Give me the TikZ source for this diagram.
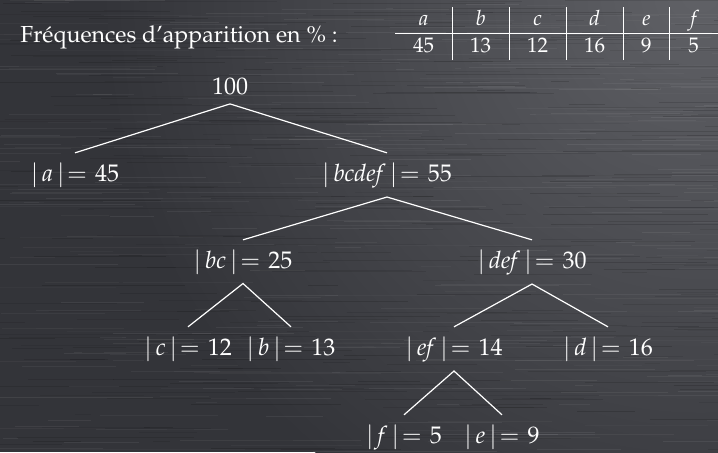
\documentclass[tikz,border=0pt]{standalone}
\usepackage[T1]{fontenc}
\usepackage{mathpazo}
\usepackage{amsmath,amssymb}
\usepackage{xcolor}
\usepackage{tikz}
\usetikzlibrary{calc}
\definecolor{bgdark}{RGB}{51,52,57}
\definecolor{bglight}{RGB}{96,97,102}
\newcommand{\card}[2]{${|\,\mathit{#1}\,|}\mkern2mu{=}\mkern6mu#2$}

\begin{document}
\begin{tikzpicture}[x=0.5pt,y=0.5pt,font=\fontsize{12}{14.4}\selectfont,
  lbl/.style={text=white,inner sep=4.5pt,anchor=base},
  edge/.style={white,line width=0.6pt}]
  % fond brosse
  \fill[bgdark] (0,0) rectangle (718,452);
  \begin{scope}
    \clip (0,0) rectangle (718,452);
    \shade[inner color=bglight,outer color=bgdark] (700,460) circle (600);
    \pgfmathsetseed{17}
    \foreach \i in {1,...,360}{
      \pgfmathsetmacro{\yy}{rnd*452}
      \pgfmathsetmacro{\xx}{rnd*760-40}
      \pgfmathsetmacro{\ll}{15+rnd*170}
      \pgfmathsetmacro{\op}{0.02+rnd*0.05}
      \draw[white,opacity=\op,line width=0.5pt] (\xx,\yy) -- ++(\ll,0);
    }
    \foreach \i in {1,...,360}{
      \pgfmathsetmacro{\yy}{rnd*452}
      \pgfmathsetmacro{\xx}{rnd*760-40}
      \pgfmathsetmacro{\ll}{15+rnd*170}
      \pgfmathsetmacro{\op}{0.05+rnd*0.10}
      \draw[black,opacity=\op,line width=0.5pt] (\xx,\yy) -- ++(\ll,0);
    }
  \end{scope}
  \useasboundingbox (0,0) rectangle (718,452);
  % frequences
  \node[lbl,anchor=base west,font=\fontsize{11.6}{14}\selectfont] (titre) at (11,410)
    {Fr\'equences d'apparition en \% :};
  \node[lbl,anchor=north east,inner sep=0pt] (freq) at (718,445)
    {\fontsize{10.5}{13}\selectfont\setlength{\tabcolsep}{9pt}%
     \begin{tabular}{c|c|c|c|c|c}
       $a$ & $b$ & $c$ & $d$ & $e$ & $f$\\ \hline
       45 & 13 & 12 & 16 & 9 & 5
     \end{tabular}};
  % arbre
  \node[lbl] (tot) at (230,358) {100};
  \node[lbl] (a) at (75,271) {\card{a}{45}};
  \node[lbl] (bcdef) at (387,271) {\card{bcdef}{55}};
  \node[lbl] (bc) at (243,184) {\card{bc}{25}};
  \node[lbl] (def) at (532,184) {\card{def}{30}};
  \node[lbl] (c) at (188,97) {\card{c}{12}};
  \node[lbl] (b) at (291,97) {\card{b}{13}};
  \node[lbl] (ef) at (454,97) {\card{ef}{14}};
  \node[lbl] (d) at (608,97) {\card{d}{16}};
  \node[lbl] (f) at (404,9) {\card{f}{5}};
  \node[lbl] (e) at (502,9) {\card{e}{9}};
  \draw[edge] (a.north) -- (tot.south) -- (bcdef.north);
  \draw[edge] (bc.north) -- (bcdef.south) -- (def.north);
  \draw[edge] (c.north) -- (bc.south) -- (b.north);
  \draw[edge] (ef.north) -- (def.south) -- (d.north);
  \draw[edge] (f.north) -- (ef.south) -- (e.north);
\end{tikzpicture}
\end{document}
